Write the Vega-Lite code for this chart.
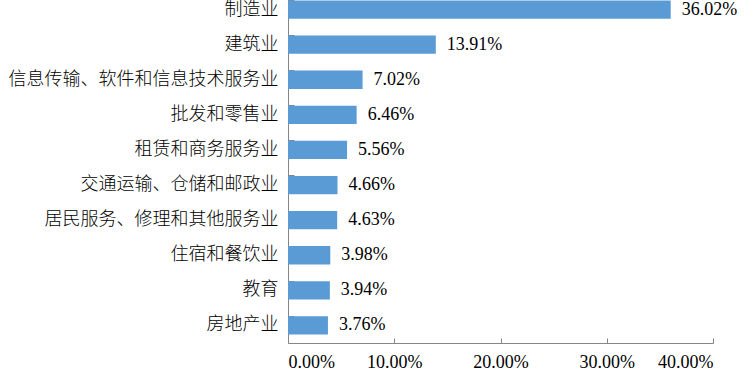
{
  "$schema": "https://vega.github.io/schema/vega-lite/v6.json",
  "autosize": "none",
  "width": 425,
  "height": 351,
  "padding": {"left": 288, "top": -8, "right": 31, "bottom": 27},
  "background": "white",
  "config": {"view": {"stroke": null}},
  "data": {
    "values": [
      {"industry": "制造业", "share": 0.3602},
      {"industry": "建筑业", "share": 0.1391},
      {"industry": "信息传输、软件和信息技术服务业", "share": 0.0702},
      {"industry": "批发和零售业", "share": 0.0646},
      {"industry": "租赁和商务服务业", "share": 0.0556},
      {"industry": "交通运输、仓储和邮政业", "share": 0.0466},
      {"industry": "居民服务、修理和其他服务业", "share": 0.0463},
      {"industry": "住宿和餐饮业", "share": 0.0398},
      {"industry": "教育", "share": 0.0394},
      {"industry": "房地产业", "share": 0.0376}
    ]
  },
  "encoding": {
    "y": {
      "field": "industry",
      "type": "nominal",
      "sort": null,
      "scale": {"paddingInner": 0.48, "paddingOuter": 0.24},
      "axis": {
        "title": null,
        "domainColor": "#868686",
        "tickColor": "#868686",
        "tickSize": -6,
        "bandPosition": 0,
        "labelFont": "Noto Sans CJK SC",
        "labelFontSize": 18,
        "labelFontWeight": 300,
        "labelColor": "#000000",
        "labelPadding": 16,
        "labelLimit": 0
      }
    },
    "x": {
      "field": "share",
      "type": "quantitative",
      "scale": {"domain": [0, 0.4]},
      "axis": {
        "title": null,
        "format": ".2%",
        "values": [0, 0.1, 0.2, 0.3, 0.4],
        "grid": false,
        "domainColor": "#868686",
        "tickColor": "#868686",
        "tickSize": -5,
        "labelFont": "Liberation Serif",
        "labelFontSize": 18,
        "labelColor": "#000000",
        "labelPadding": 15
      }
    }
  },
  "layer": [
    {"mark": {"type": "bar", "color": "#5B9BD5"}},
    {
      "mark": {"type": "text", "align": "left", "dx": 11, "font": "Liberation Serif", "fontSize": 18, "color": "#000000"},
      "encoding": {"text": {"field": "share", "type": "quantitative", "format": ".2%"}}
    }
  ]
}
